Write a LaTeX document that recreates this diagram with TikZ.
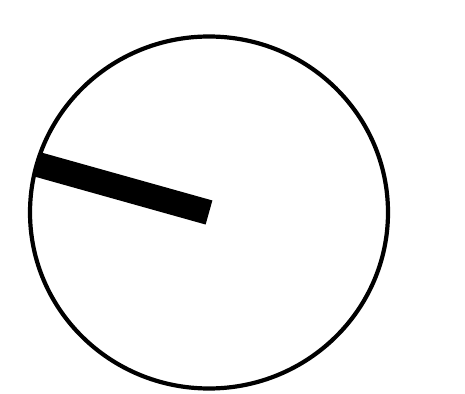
\documentclass[tikz,border=0pt]{standalone}
\begin{document}
\begin{tikzpicture}[x=1pt,y=1pt,
  rim/.style={draw=black,line width=4.2pt},
  hand/.style={draw=black,line width=25pt,line cap=butt}]
\useasboundingbox (0,0) rectangle (465,393);
\coordinate (c) at (209,180.5);
\coordinate (tip) at (36,229);
\draw[hand] (c) -- (tip);
\draw[rim] (c) ellipse [x radius=179, y radius=176];
\end{tikzpicture}
\end{document}
